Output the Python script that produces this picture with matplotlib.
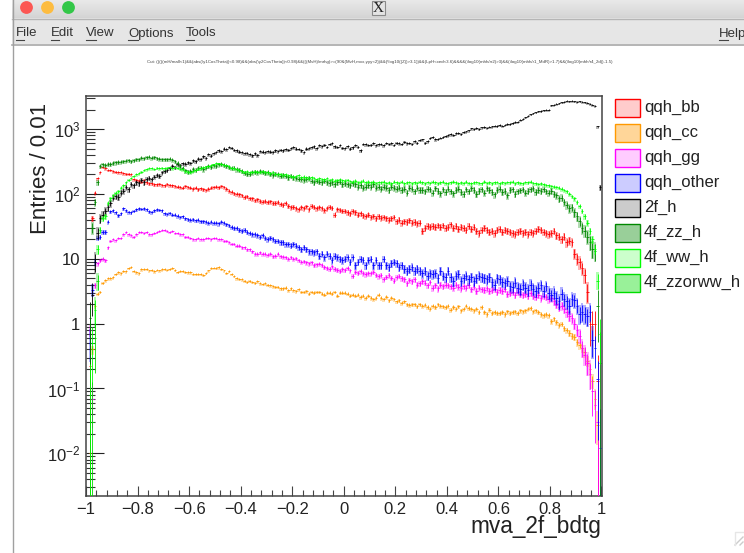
import numpy as np
import matplotlib
matplotlib.use('Agg')
import matplotlib.pyplot as plt
from matplotlib.patches import Rectangle, Circle
from matplotlib.ticker import FixedLocator, FixedFormatter, NullFormatter

plt.rcParams['font.family'] = ['Liberation Sans', 'DejaVu Sans']
plt.rcParams['mathtext.default'] = 'regular'

# entries per bin, 200 bins of width 0.01 (0 = empty bin)
black = [0,1.2,2.8,9,25,42,48,55,62,72,
 88,92,90,105,112,128,118,142,135,150,
 145,165,150,170,178,168,185,195,190,215,
 225,235,250,270,258,285,275,295,290,305,
 300,330,320,350,345,380,360,410,390,425,
 440,470,455,500,490,530,515,480,470,450,
 440,425,430,410,395,420,400,455,450,440,
 460,450,445,470,455,480,470,490,480,510,
 525,500,495,470,440,500,510,525,540,510,
 560,545,575,530,590,600,540,530,560,515,
 510,545,500,520,560,535,470,590,580,570,
 575,600,560,580,590,565,610,590,600,570,
 620,600,590,640,600,610,590,650,620,680,
 690,620,650,730,760,700,710,740,760,790,
 800,830,810,860,880,850,900,920,950,1020,
 1000,1040,1010,1060,1080,1050,1090,1100,1130,1120,
 1150,1130,1170,1200,1190,1240,1290,1300,1390,1440,
 1520,1600,1680,1750,1820,1880,1900,1960,1980,2000,
 2330,2380,2440,2500,2590,2650,2720,2680,2740,2690,
 2650,2700,2620,2580,2540,2450,2380,2300,1100,127]

red = [0,0.22,42,105,175,215,260,250,235,235,
 225,220,215,215,210,205,205,200,170,165,
 160,155,165,150,145,145,140,140,142,138,
 135,142,138,135,132,130,128,125,132,128,
 125,120,125,118,122,118,115,120,125,128,
 130,127,132,128,120,112,108,102,100,98,
 95,90,92,86,85,80,82,78,76,78,
 75,77,72,73,75,70,68,72,66,62,
 63,60,58,62,60,64,58,66,63,60,
 62,60,56,60,63,61,48,58,57,55,
 55,52,50,54,52,48,50,47,46,48,
 44,46,42,45,43,44,42,40,42,44,
 38,40,36,38,37,39,36,37,35,36,
 27,30,32,31,32,31,33,31,33,30,
 31,34,30,32,29,31,30,28,32,29,
 31,27,25,28,30,28,26,27,25,28,
 29,26,28,27,26,25,24,26,27,25,
 26,24,26,25,27,29,28,26,25,24,
 25,27,23,22,20,22,18,19,18,12,
 10,8.8,7.2,5.6,3.1,1.0,1.0,1.0,0.13,0]

blue = [0,0.5,3.3,9,21,22,26,26,37,54,
 56,52,47,50,60,56,53,52,55,58,
 60,59,60,58,54,53,56,58,57,56,
 50,49,51,48,48,46,44,45,42,41,
 40,41,39,40,38,38,37,36,37,36,
 36,35,37,36,34,33,31,30,30,28,
 27,28,26,25,24,24,23,22,23,21,
 20,21,20,19,19,18,18,17,17,16,
 17,16,15,14,15,14,13,13,12.5,13,
 11,12,10.5,12,11,9.5,11,10.5,10,9.5,
 10,10.5,9,10.5,8,9,10,9.5,8,9.5,
 10,8,9.5,8,8,10,8,7.5,8.5,9,
 8.5,7.5,8,7,6.5,7,7.5,6.5,7,6.5,
 6,6.5,5.5,6,5.8,6,5,6.5,5.5,5.2,
 6.5,5.2,4.5,5.5,5.8,4.5,5,5.5,4.8,5.2,
 4.5,5,5.5,5.2,5,4.8,5.2,4.4,4,5,
 4.8,4.4,4.2,4.5,3.8,3.7,4.3,3.6,3.4,4,
 3.6,3.3,4,3.4,3.2,3.6,3.9,3.2,3.8,3,
 2.8,3,2.5,2.2,2.9,2.4,2.2,1.9,2.4,2.3,
 1.9,1.4,1.5,1.4,1.3,1.5,0.55,0.42,0.14,0.012]

magenta = [0,0.8,0.07,3.9,8.5,9.5,10,9.5,15,19,
 20,19.5,21,21,24,26,24,23,22,24,
 26,26,25,26,24,24,25,26,27,28,
 28,27,26,27,25,25,24,24,22,22,
 21,20,20,21,20,20,21,21,20,21,
 21,20,20,19,19,18,17,17,16,16,
 15,15,14,14,13,12,12,12.5,12,12,
 11.5,12,11,11.2,12,11,10.8,10.5,10,10.5,
 10,10.2,9.5,9,9.2,8.8,8.5,8.8,8,8.2,
 8.4,8,7.5,7.2,7,7.6,7,6.8,6.5,6.9,
 6.7,7.2,6.6,5.5,6.3,6.1,6.4,6,5.8,6,
 6,6.3,5.7,5.4,5.6,4.9,5.3,5.6,5.1,4.6,
 5.2,5.5,5,4.8,4.2,4.7,4.5,4.8,4,4.2,
 4.5,4.3,3.9,4.4,3.6,3.9,3.5,4,3.8,4,
 3.9,3.8,3.6,4,3.7,3.5,3.8,3.6,3.9,3.4,
 3.7,3.2,3.6,3.4,3.3,3.5,3.2,3.3,3.4,3.1,
 3.3,3.2,3.4,2.9,3,3.1,2.8,3.1,2.9,2.8,
 2.9,2.7,3,2.7,2.6,2.8,2.5,2.7,2.6,2.4,
 2.5,2.2,2,1.8,1.9,1.7,1.5,1.3,1.2,1,
 0.8,0.65,0.42,0.33,0.25,0.17,0.09,0.055,0.03,0]

orange = [0,0.01,0.4,1.9,2.9,3.1,4.3,4.7,5,5,
 5.2,5.8,6.2,6,6.5,6.4,7.2,7.5,6.5,6.2,
 6,6.9,7,7,6.6,6.7,6.4,6.8,6.6,6.9,
 7,6.8,7,7.2,6.7,6.3,6.5,6.5,6.3,6.2,
 6.2,5.9,5.9,5.8,5.9,5.7,6.1,6.6,7.2,7.3,
 7.2,7.4,7,6.6,6.1,6.5,5.9,5.5,5,4.9,
 4.8,4.6,4.4,4.6,4.4,4.3,4.5,4.2,4.1,4.2,
 4,3.9,3.8,3.7,3.7,3.5,3.5,3.6,3.3,3.5,
 3.3,3.2,3.4,3.1,3.1,3.2,2.9,3.1,3,3.1,
 3.1,2.9,2.8,3,3,2.9,3.1,2.7,3,3,
 3,2.9,2.7,2.8,2.7,2.8,2.6,2.7,2.5,2.7,
 2.5,2.4,2.5,2.8,2.5,2.4,2.6,2.3,2.5,2.4,
 2.2,2.3,2.1,2.2,2,1.95,2,2,1.85,2,
 1.9,1.95,1.8,1.7,1.9,1.8,2,1.9,1.85,1.8,
 1.9,1.65,1.8,1.7,1.85,1.6,1.7,1.9,1.75,1.7,
 1.6,1.7,1.5,1.8,1.5,1.4,1.65,1.45,1.5,1.45,
 1.45,1.5,1.4,1.55,1.45,1.5,1.55,1.45,1.6,1.55,
 1.6,1.7,1.75,1.55,1.6,1.5,1.4,1.35,1.4,1.35,
 1.1,1.2,1.05,0.95,1,0.85,0.8,0.72,0.65,0.62,
 .52,.47,.42,.36,.27,.2,.13,.07,.027,0]

zz = [0,1,30,75,150,270,285,280,290,290,
 300,305,310,315,320,325,330,320,330,340,
 345,360,355,370,375,360,370,355,350,345,
 340,345,350,335,320,300,270,250,230,220,
 225,240,235,250,255,240,255,270,260,275,
 270,285,290,280,270,260,250,255,240,235,
 225,210,205,205,215,220,215,225,220,210,
 215,205,195,205,200,190,195,190,180,190,
 180,175,172,170,165,170,175,160,150,160,
 155,150,160,150,145,150,140,150,155,140,
 145,140,135,145,140,130,135,125,130,135,
 130,140,125,130,120,130,125,115,130,125,
 120,125,115,120,105,125,120,110,125,115,
 115,110,120,118,105,122,112,102,118,108,
 120,110,102,115,120,108,100,118,110,122,
 115,100,112,118,105,122,115,108,98,115,
 120,108,112,95,115,118,100,110,114,118,
 105,112,118,122,108,115,112,118,110,105,
 112,100,95,85,88,75,68,60,62,52,
 45,38,30,27,22,18,14,13,1.9,0.25]

ww = [0,0.08,0.5,1.6,14,28,42,45,72,85,
 95,105,110,125,135,150,165,175,190,200,
 210,220,235,240,250,250,245,255,250,255,
 250,255,260,250,260,255,245,240,225,220,
 215,225,235,245,250,260,265,270,280,285,
 300,295,290,280,280,265,255,250,245,235,
 225,220,225,215,220,225,220,215,225,220,
 215,210,220,205,200,205,195,200,195,190,
 185,190,195,180,185,180,175,180,178,170,
 175,170,168,175,165,170,160,165,170,162,
 160,165,158,155,160,150,155,160,150,155,
 150,155,148,152,150,155,148,150,145,155,
 150,148,155,145,150,152,145,150,148,155,
 150,145,152,148,155,150,145,150,155,148,
 145,150,155,150,145,150,148,155,148,145,
 150,152,148,145,155,148,150,145,150,152,
 145,150,148,152,150,155,145,150,148,145,
 152,150,155,148,145,143,145,140,138,135,
 133,130,128,125,120,115,110,100,92,85,
 75,65,55,45,36,27,20,14,4.6,0.7]

# only a few left edge bins of this one are visible
zzorww_x = [-0.975, -0.965, -0.955]
zzorww_y = [0.03, 0.6, 4.5]

names = ['qqh_bb', 'qqh_cc', 'qqh_gg', 'qqh_other', '2f_h', '4f_zz_h', '4f_ww_h', '4f_zzorww_h']
colors = ['#ff0000', '#ff9900', '#ff00ff', '#0000ff', '#000000', '#008800', '#00ff00', '#00dd00']
legend_alpha = [0.2, 0.4, 0.2, 0.2, 0.2, 0.4, 0.2, 0.4]
# per-event weight, sets the size of the error bars
weights = [0.3, 0.006, 0.03, 0.11, 0.8, 1.0, 0.3, 0.3]
edges = np.arange(200) * 0.01 - 0.995

cut_text = ("Cut: (((((mH/mall<1)&&(abs(\\y1CosTheta))<0.98)&&(abs(\\y2CosTheta))<0.98)&&(((MvH)/mrhg)>=(90&(MvH,mxx,yyy<2))"
            "&&(\\log10((Z))>3.1))&&(LpH<xed<3.6)&&&&(\\log10(mhh/rr2)>3)&&(\\log10(mhh/r1_MdR)>1.7)&&(\\log10(mhh/r4_2d))-1.5)")

fig = plt.figure(figsize=(7.44, 5.53), dpi=100)

# window chrome, in pixel coordinates
bg = fig.add_axes([0, 0, 1, 1], zorder=0)
bg.set_xlim(0, 744)
bg.set_ylim(553, 0)
bg.axis('off')
bar = np.linspace(0.91, 0.83, 18).reshape(-1, 1)
bg.imshow(bar, extent=(12, 744, 18, 0), cmap='gray', vmin=0, vmax=1, aspect='auto')
bg.set_xlim(0, 744)
bg.set_ylim(553, 0)
bg.add_patch(Rectangle((12, 18), 732, 26, fc='#e6e6e6', ec='none'))
bg.plot([12, 744], [18.5, 18.5], color='#b5b5b5', lw=1)
bg.plot([12, 744], [44.5, 44.5], color='#a8a8a8', lw=1.2)
bg.plot([12.5, 12.5], [0, 553], color='#a0a0a0', lw=1)
for cx, col in zip([26.5, 47.5, 68.5], ['#fc5753', '#fdbc40', '#33c748']):
    bg.add_patch(Circle((cx, 7.5), 6.4, fc=col, ec='none'))
bg.add_patch(Rectangle((372, 1), 13, 14, fc='#e4e4e4', ec='#8a8a8a', lw=0.8))
bg.text(378.5, 8.5, 'X', family='Liberation Serif', fontsize=11, ha='center', va='center', color='#222222')
for label, px, ux in [('File', 16, 8), ('Edit', 51, 8), ('View', 86, 10), ('Options', 128, 10), ('Tools', 186, 8), ('Help', 719, 9)]:
    bg.text(px, 36.5, label, fontsize=9.5, ha='left', va='baseline', color='#333333')
    bg.plot([px, px + ux], [39.5, 39.5], color='#444444', lw=0.8)
bg.plot([735, 743], [545, 537], color='#cccccc', lw=1)
bg.plot([740, 743], [545, 542], color='#cccccc', lw=1)
bg.plot([734.5, 734.5, 744], [545, 532, 532], color='#e6e6e6', lw=1)

bg.text(379.5, 62.5, cut_text, fontsize=3.2, ha='center', va='center', color='#444444')

# legend
for i, name in enumerate(names):
    top = 98.5 + 25 * i
    bg.add_patch(Rectangle((614.5, top), 25, 18.5, fc=matplotlib.colors.to_rgba(colors[i], legend_alpha[i]),
                           ec=colors[i], lw=1))
    bg.text(644, top + 9, name, fontsize=12, ha='left', va='center', color='#222222')

# plot frame
ax = fig.add_axes([86 / 744, 1 - 496 / 553, 515.5 / 744, 400.5 / 553], zorder=1)
ax.set_yscale('log')
ax.set_xlim(-1, 1)
ax.set_ylim(0.0022, 3290)


def draw_series(x, y, col, w, z):
    x = np.asarray(x)
    y = np.asarray(y, dtype=float)
    keep = y > 0
    x, y = x[keep], y[keep]
    err = np.sqrt(y * w)
    low = np.maximum(y - err, 1e-4)
    high = y + err
    # pale box only where the error is small, long bars have none
    small = err < 0.5 * y
    ax.bar(x[small], (high - low)[small] * 1.25, bottom=low[small] * 0.95, width=0.01, color=col, alpha=0.3, lw=0, zorder=z)
    ax.vlines(x, low, high, color=col, lw=0.6, zorder=z + 0.1)
    ax.hlines(y, x - 0.005, x + 0.005, color=col, lw=0.6, zorder=z + 0.1)


draw_series(edges, red, colors[0], weights[0], 3)
draw_series(edges, orange, colors[1], weights[1], 4)
draw_series(edges, magenta, colors[2], weights[2], 5)
draw_series(edges, blue, colors[3], weights[3], 6)
draw_series(edges, black, colors[4], weights[4], 7)
draw_series(edges, zz, colors[5], weights[5], 8)
draw_series(edges, ww, colors[6], weights[6], 9)
draw_series(zzorww_x, zzorww_y, colors[7], weights[7], 10)

# ROOT style ticks
for side in ax.spines.values():
    side.set_color('#444444')
    side.set_linewidth(1.1)

y_major = [0.01, 0.1, 1, 10, 100, 1000]
y_labels = ['$10^{-2}$', '$10^{-1}$', '1', '10', '$10^{2}$', '$10^{3}$']
ax.yaxis.set_major_locator(FixedLocator(y_major))
ax.yaxis.set_major_formatter(FixedFormatter(y_labels))
y_minor = [m * d for d in [0.001, 0.01, 0.1, 1, 10, 100, 1000] for m in range(2, 10)]
ax.yaxis.set_minor_locator(FixedLocator(y_minor))
ax.yaxis.set_minor_formatter(NullFormatter())
ax.set_xticks(np.arange(-1, 1.01, 0.2))
ax.set_xticklabels(['\u22121', '\u22120.8', '\u22120.6', '\u22120.4', '\u22120.2', '0', '0.2', '0.4', '0.6', '0.8', '1'])
ax.set_xticks(np.arange(-1, 1.01, 0.04), minor=True)
ax.tick_params(axis='y', which='major', direction='in', length=13, width=0.8, color='#222222', labelsize=12, pad=4, labelcolor='#222222')
ax.tick_params(axis='y', which='minor', direction='in', length=6.5, width=0.8, color='#333333')
ax.tick_params(axis='x', which='major', direction='in', length=7.5, width=0.8, color='#444444', labelsize=12, pad=4, labelcolor='#222222')
ax.tick_params(axis='x', which='minor', direction='in', length=4, width=0.8, color='#444444')

bg.text(601, 527, 'mva_2f_bdtg', fontsize=16.3, ha='right', va='center', color='#222222')
bg.text(40, 168, 'Entries / 0.01', fontsize=16, rotation=90, ha='center', va='center', color='#222222')

fig.savefig('out.png', dpi=100)
